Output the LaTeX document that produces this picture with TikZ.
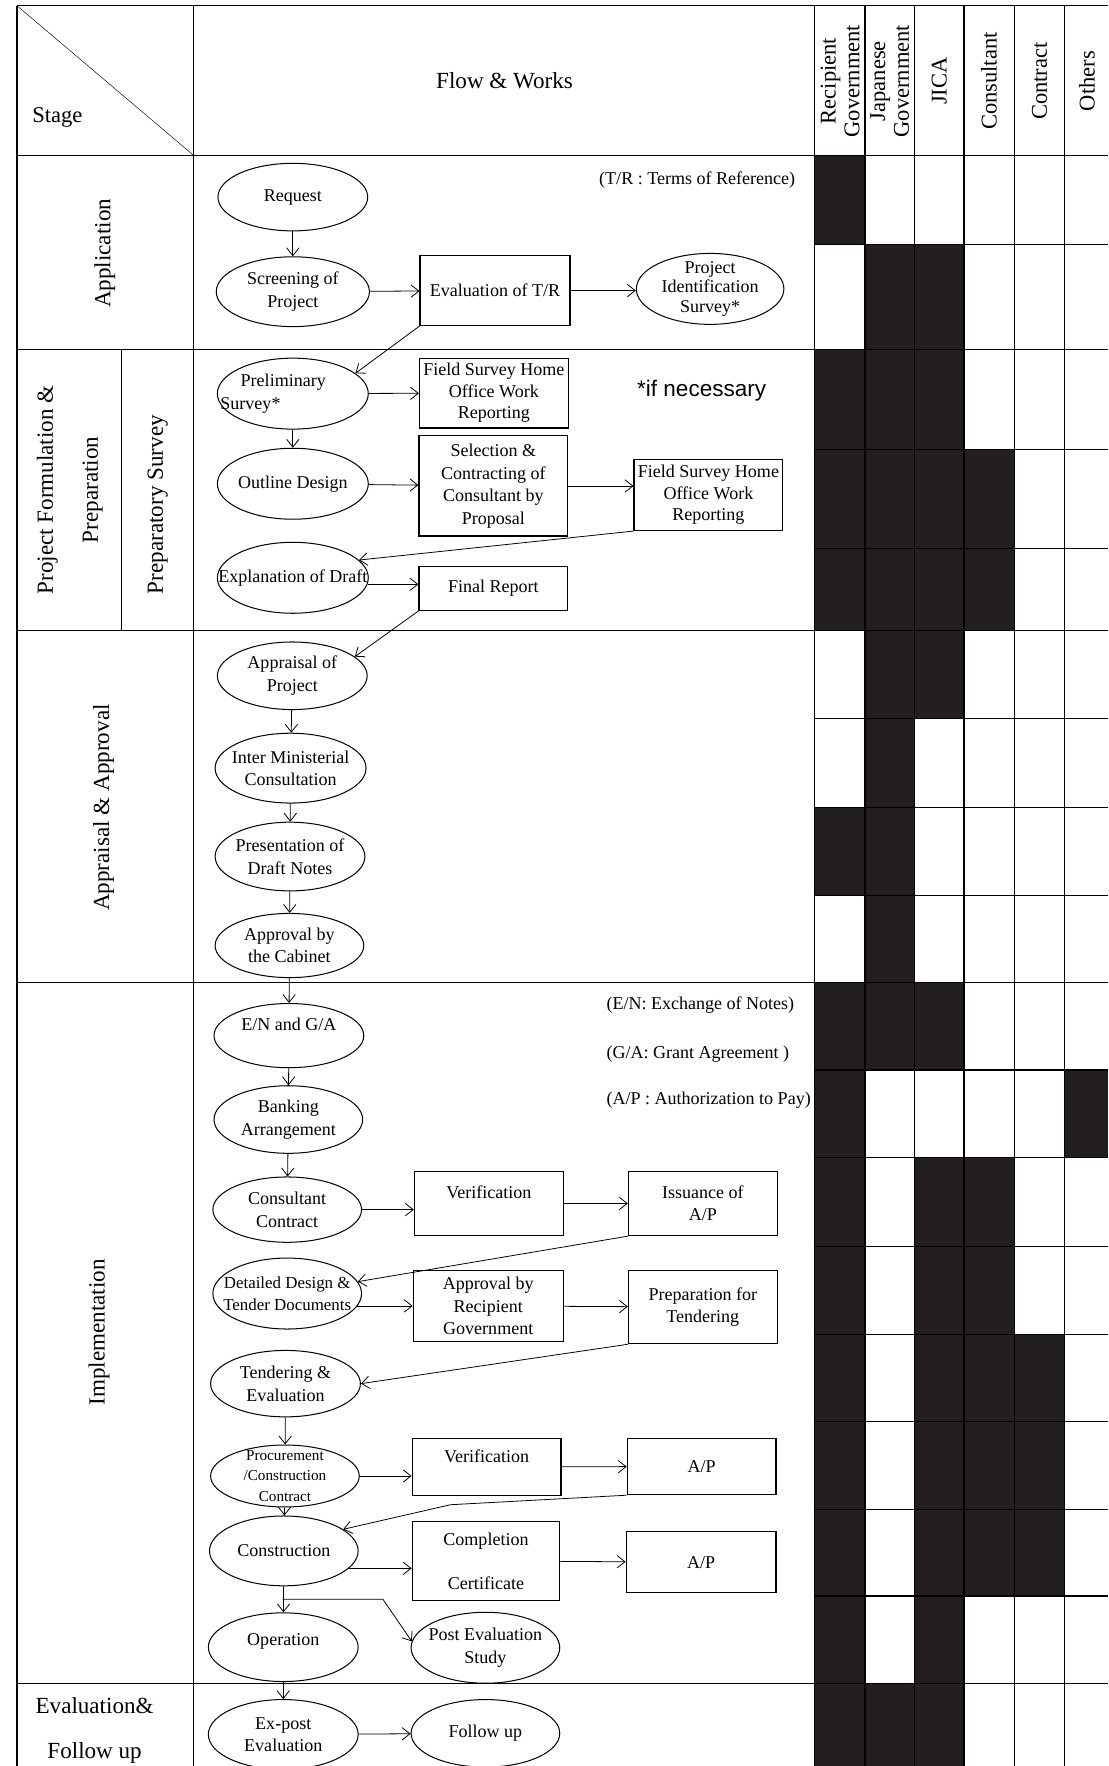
\documentclass[tikz,border=0pt]{standalone}
\usepackage{fontspec}
\setmainfont{Liberation Serif}
\newfontfamily\notefont{Liberation Sans}
\usetikzlibrary{arrows.meta, shapes.geometric}
\definecolor{ink}{HTML}{231F20}
\newcommand{\nodefont}{\fontsize{16}{20}\selectfont}
\newcommand{\stagefont}{\fontsize{20.5}{40}\selectfont}
\newcommand{\headfont}{\fontsize{20}{21}\selectfont}

\begin{document}
\begin{tikzpicture}[x=1pt, y=-1pt,
    every node/.style = {font=\nodefont, align=center},
    flow/.style = {shape=ellipse, draw, line width=0.9pt,
      inner xsep=-30pt, inner ysep=-10pt,
      minimum width=133pt, minimum height=61pt},
    work/.style = {shape=rectangle, draw, line width=1.1pt, inner sep=2pt,
      minimum width=132pt, minimum height=62pt},
    arr/.style = {line width=0.7pt, -{Straight Barb[length=7pt,width=11pt]}},
    tabline/.style = {line width=1.1pt},
    stage/.style = {font=\stagefont, rotate=90},
    role/.style = {font=\headfont, rotate=90},
    note/.style = {anchor=west},
  ]
  \useasboundingbox (0,0) rectangle (984,1568);

  % who does what: black cells
  \foreach \xa/\xb/\ya/\yb in {723/768/138/217, 768/856/217/310, 723/856/310/399,
      723/901/399/560, 768/856/560/638, 768/812/638/717, 723/812/717/795,
      768/812/795/872, 723/856/872/950, 723/768/950/1495, 945/984/950/1028,
      812/901/1028/1185, 812/945/1185/1417, 812/856/1417/1495, 723/856/1495/1568}
    \fill[ink] (\xa,\ya) rectangle (\xb,\yb);

  % table lines
  \draw[tabline] (15,5) -- (984,5);
  \foreach \y in {138,310,560,872,1495}
    \draw[tabline] (15,\y) -- (984,\y);
  \foreach \y in {217,399,487,638,717,795,950,1028,1107,1185,1262,1340,1417}
    \draw[tabline] (723,\y) -- (984,\y);
  \foreach \x in {15,172,723,768,812,856,901,945}
    \draw[tabline] (\x,5) -- (\x,1568);
  \draw[tabline] (108,310) -- (108,560);
  \draw (15,5) -- (172,138);

  % headings
  \node[font=\headfont] (stg) at (51,104) {Stage};
  \node[font=\fontsize{20.5}{24}\selectfont] (fw) at (448,72) {Flow \& Works};
  \node[role] (rg) at (746,72) {Recipient\\Government};
  \node[role] (jg) at (790,72) {Japanese\\Government};
  \node[role] (jica) at (834,72) {JICA};
  \node[role] (cst) at (878,72) {Consultant};
  \node[role] (ctr) at (923,72) {Contract};
  \node[role] (oth) at (965,72) {Others};

  \node[stage] (sapp) at (93,225) {Application};
  \node[stage] (spf) at (62,435) {Project Formulation \&\\Preparation};
  \node[stage] (sps) at (140,448) {Preparatory Survey};
  \node[stage] (saa) at (92,717) {Appraisal \& Approval};
  \node[stage] (simp) at (88,1183) {Implementation};
  \node[font=\stagefont] (sef) at (84,1536) {Evaluation\&\\Follow up};

  % application
  \node[flow, minimum height=60pt] (req) at (260,175) {Request};
  \node[flow, minimum width=136pt, minimum height=62pt] (scr) at (260,259) {Screening of\\Project};
  \node[work, minimum width=133pt] (evtr) at (439.5,258) {Evaluation of T/R};
  \node[flow, minimum width=131pt, minimum height=63pt,
    font=\fontsize{16}{17.5}\selectfont] (pis) at (630.5,256.5) {Project\\Identification\\Survey*};
  \node (ntr) at (619,160) {(T/R : Terms of Reference)};

  % project formulation
  \node[flow, minimum width=134pt, minimum height=63pt, align=left] (pre) at (260,349.5)
    {\hspace*{18pt}Preliminary\hspace*{35pt}\\Survey*};
  \node[work, font=\fontsize{16}{19}\selectfont] (fs1) at (438.5,349) {Field Survey Home\\Office Work\\Reporting};
  \node[font=\notefont\fontsize{20}{24}\selectfont] (ifn) at (623,347) {*if necessary};
  \node[flow, minimum width=134pt, minimum height=63pt] (out) at (260,429.5) {Outline Design};
  \node[work, minimum height=89pt] (sel) at (438,431.5) {Selection \&\\Contracting of\\Consultant by\\Proposal};
  \node[work, minimum height=63pt, font=\fontsize{16}{19}\selectfont] (fs2) at (629,439.5) {Field Survey Home\\Office Work\\Reporting};
  \node[flow, minimum width=134pt, minimum height=63pt] (expl) at (260,513) {Explanation of Draft};
  \node[work, minimum height=39pt] (fin) at (438,522.5) {Final Report};

  % appraisal
  \node[flow, minimum height=60pt] (app) at (259.5,600) {Appraisal of\\Project};
  \node[flow, minimum width=134pt, minimum height=62pt] (imc) at (258,682) {Inter Ministerial\\Consultation};
  \node[flow, minimum height=61pt] (pdn) at (257.5,760.5) {Presentation of\\Draft Notes};
  \node[flow, minimum width=132pt, minimum height=57pt] (cab) at (257,839.5) {Approval by\\the Cabinet};

  % implementation
  \node[flow, minimum height=57pt] (en) at (256.5,919.5) {E/N and G/A\\~};
  \node[note] (nen) at (535,892) {(E/N: Exchange of Notes)};
  \node[note] (nga) at (535,936) {(G/A: Grant Agreement )};
  \node[note] (nap) at (535,977) {(A/P : Authorization to Pay)};
  \node[flow, minimum width=132pt, minimum height=60pt] (bank) at (256,994) {Banking\\Arrangement};
  \node[flow, minimum width=132pt, minimum height=58pt] (cons) at (255,1074) {Consultant\\Contract};
  \node[work, minimum height=57pt] (ver1) at (434,1068.5) {Verification\\~};
  \node[work, minimum height=57pt] (iss) at (624,1068.5) {Issuance of\\A/P};
  \node[flow, minimum width=132pt, minimum height=63pt,
    font=\fontsize{15}{20}\selectfont] (dd) at (255,1148.5) {Detailed Design \&\\Tender Documents};
  \node[work, minimum width=133pt, minimum height=63pt] (arg) at (433.5,1159.5) {Approval by\\Recipient\\Government};
  \node[work, minimum height=65pt] (prep) at (624,1160.5) {Preparation for\\Tendering};
  \node[flow, minimum height=59pt] (ten) at (253.5,1228.5) {Tendering \&\\Evaluation};
  \node[flow, minimum width=132pt, minimum height=55pt,
    font=\fontsize{13.5}{18}\selectfont] (proc) at (253,1310.5) {Procurement\\/Construction\\Contract};
  \node[work, minimum height=51pt] (ver2) at (432,1302.5) {Verification\\~};
  \node[work, minimum height=50pt] (ap1) at (623,1302) {A/P};
  \node[flow, minimum width=132pt, minimum height=62pt] (con) at (252,1377) {Construction};
  \node[work, minimum width=131pt, minimum height=70pt] (cc) at (431.5,1386) {Completion\\[19pt]Certificate};
  \node[work, minimum width=133pt, minimum height=54pt] (ap2) at (622.5,1387) {A/P};
  \node[flow, minimum height=61pt] (opr) at (251.5,1462.5) {Operation\\[-6pt]~};
  \node[flow, minimum width=132pt, minimum height=63pt] (pes) at (431,1463) {Post Evaluation\\Study};

  % evaluation
  \node[flow, minimum height=62pt] (exp) at (251.5,1540) {Ex-post\\Evaluation};
  \node[flow, minimum width=132pt, minimum height=60pt] (fol) at (431,1539) {Follow up};

  \coordinate (kink) at (400,1336);
  \coordinate (fork) at (251,1420);
  \coordinate (bend) at (340,1420);

  % flow arrows
  \draw[arr] (req) -- (scr);
  \draw[arr] (scr) -- (evtr);
  \draw[arr] (evtr) -- (evtr -| pis.west);
  \draw[arr] (evtr.south west) -- (pre.18);
  \draw[arr] (pre) -- (fs1);
  \draw[arr] (pre) -- (out);
  \draw[arr] (out) -- (sel);
  \draw[arr] (sel.east) -- (sel.east -| fs2.west);
  \draw[arr] (fs2.south west) -- (expl.15);
  \draw[arr] (expl.-5) -- (expl.-5 -| fin.west);
  \draw[arr] (fin.south west) -- (app.17);
  \draw[arr] (app) -- (imc);
  \draw[arr] (imc) -- (pdn);
  \draw[arr] (pdn) -- (cab);
  \draw[arr] (cab) -- (en);
  \draw[arr] (en) -- (bank);
  \draw[arr] (bank) -- (cons);
  \draw[arr] (cons) -- (cons -| ver1.west);
  \draw[arr] (ver1) -- (iss);
  \draw[arr] (iss.south west) -- (dd);
  \draw[arr] (dd.-10) -- (dd.-10 -| arg.west);
  \draw[arr] (arg) -- (prep);
  \draw[arr] (prep.south west) -- (ten.east);
  \draw[arr] (ten) -- (proc);
  \draw[arr] (proc) -- (proc -| ver2.west);
  \draw[arr] (ver2) -- (ap1);
  \draw[arr] (ap1.south west) -- (kink) -- (con.20);
  \draw[arr] (proc) -- (con);
  \draw[arr] (con.-15) -- (con.-15 -| cc.west);
  \draw[arr] (cc) -- (ap2);
  \draw[arr] (con) -- (opr);
  \draw[arr] (fork) -- (bend) -- (pes.175);
  \draw[arr] (opr) -- (exp);
  \draw[arr] (exp) -- (fol);
\end{tikzpicture}
\end{document}
